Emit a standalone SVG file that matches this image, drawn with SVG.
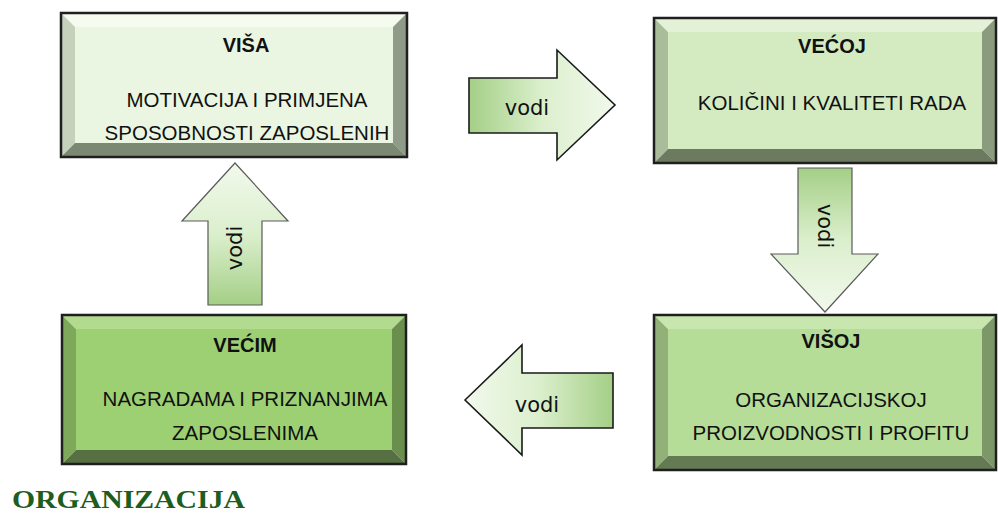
<svg xmlns="http://www.w3.org/2000/svg" width="998" height="513" viewBox="0 0 998 513">
<style>
.bord{fill:none;stroke:#1f1f1f;stroke-width:2.5}
.t{font-family:"Liberation Sans",Arial,sans-serif;font-size:20.5px;fill:#111;text-anchor:middle}
.h{font-weight:bold;font-size:20px}
.v{font-family:"DejaVu Sans",Verdana,sans-serif;font-size:21px;fill:#111;text-anchor:middle}
.arrH{stroke:#1a1a1a;stroke-width:1.6}
.arrV{stroke:#5a5a5a;stroke-width:1.2}
</style>
<defs>
<linearGradient id="gR" x1="0" y1="0" x2="1" y2="0"><stop offset="0" stop-color="#a4cf86"/><stop offset="0.5" stop-color="#dbefcd"/><stop offset="1" stop-color="#f2f9ec"/></linearGradient>
<linearGradient id="gL" x1="1" y1="0" x2="0" y2="0"><stop offset="0" stop-color="#a4cf86"/><stop offset="0.5" stop-color="#dbefcd"/><stop offset="1" stop-color="#f2f9ec"/></linearGradient>
<linearGradient id="gD" x1="0" y1="0" x2="0" y2="1"><stop offset="0" stop-color="#a4cf86"/><stop offset="0.5" stop-color="#dbefcd"/><stop offset="1" stop-color="#f2f9ec"/></linearGradient>
<linearGradient id="gU" x1="0" y1="1" x2="0" y2="0"><stop offset="0" stop-color="#a4cf86"/><stop offset="0.5" stop-color="#dbefcd"/><stop offset="1" stop-color="#f2f9ec"/></linearGradient>
</defs>

<g id="connectors">
  <g id="arrow-right">
    <polygon class="arrH" fill="url(#gR)" points="469,78 557,78 557,50 615,105 557,160 557,133 469,133"/>
    <text class="v" x="527" y="115">vodi</text>
  </g>
  <g id="arrow-down">
    <polygon class="arrV" fill="url(#gD)" points="798,168 852,168 852,254 878,254 825,312 771,254 798,254"/>
    <text class="v" transform="translate(818,226) rotate(90)">vodi</text>
  </g>
  <g id="arrow-left">
    <polygon class="arrH" fill="url(#gL)" points="465,400 522,345 522,373 613,373 613,428 522,428 522,455"/>
    <text class="v" x="537" y="412">vodi</text>
  </g>
  <g id="arrow-up">
    <polygon class="arrV" fill="url(#gU)" points="235,163 288,221 262,221 262,305 208,305 208,221 182,221"/>
    <text class="v" transform="translate(242,248) rotate(-90)">vodi</text>
  </g>
</g>

<g id="node-visa">
  <rect x="75" y="27" width="318" height="116" fill="#ebf6e2"/>
  <polygon fill="#f5fbef" points="61,13 407,13 393,27 75,27"/>
  <polygon fill="#c5d1bb" points="61,13 75,27 75,143 61,157"/>
  <polygon fill="#8f9b87" points="407,13 407,157 393,143 393,27"/>
  <polygon fill="#7b8872" points="61,157 75,143 393,143 407,157"/>
  <rect class="bord" x="61" y="13" width="346" height="144"/>
  <text class="t h" x="246" y="52">VIŠA</text>
  <text class="t" x="247" y="107">MOTIVACIJA I PRIMJENA</text>
  <text class="t" x="247" y="140">SPOSOBNOSTI ZAPOSLENIH</text>
</g>

<g id="node-vecoj">
  <rect x="668" y="32" width="314" height="117" fill="#d4ebc2"/>
  <polygon fill="#e3f2d7" points="654,18 996,18 982,32 668,32"/>
  <polygon fill="#a9bd9a" points="654,18 668,32 668,149 654,163"/>
  <polygon fill="#8a9b7e" points="996,18 996,163 982,149 982,32"/>
  <polygon fill="#6c7b60" points="654,163 668,149 982,149 996,163"/>
  <rect class="bord" x="654" y="18" width="342" height="145"/>
  <text class="t h" x="832" y="53">VEĆOJ</text>
  <text class="t" x="832" y="110">KOLIČINI I KVALITETI RADA</text>
</g>

<g id="node-vecim">
  <rect x="76" y="329" width="316" height="121" fill="#9dd072"/>
  <polygon fill="#b2db90" points="62,315 406,315 392,329 76,329"/>
  <polygon fill="#7ea95b" points="62,315 76,329 76,450 62,464"/>
  <polygon fill="#6a8f4c" points="406,315 406,464 392,450 392,329"/>
  <polygon fill="#566f43" points="62,464 76,450 392,450 406,464"/>
  <rect class="bord" x="62" y="315" width="344" height="149"/>
  <text class="t h" x="245" y="352">VEĆIM</text>
  <text class="t" x="245" y="406">NAGRADAMA I PRIZNANJIMA</text>
  <text class="t" x="245" y="440">ZAPOSLENIMA</text>
</g>

<g id="node-visoj">
  <rect x="668" y="329" width="314" height="127" fill="#b5dd97"/>
  <polygon fill="#c7e7af" points="654,315 996,315 982,329 668,329"/>
  <polygon fill="#91b179" points="654,315 668,329 668,456 654,470"/>
  <polygon fill="#7c9868" points="996,315 996,470 982,456 982,329"/>
  <polygon fill="#637a52" points="654,470 668,456 982,456 996,470"/>
  <rect class="bord" x="654" y="315" width="342" height="155"/>
  <text class="t h" x="831" y="348">VIŠOJ</text>
  <text class="t" x="831" y="407">ORGANIZACIJSKOJ</text>
  <text class="t" x="831" y="440">PROIZVODNOSTI I PROFITU</text>
</g>

<text x="12" y="508" font-family="'Liberation Serif','Times New Roman',serif" font-weight="bold" font-size="26" fill="#1d5e20" textLength="233" lengthAdjust="spacingAndGlyphs">ORGANIZACIJA</text>
</svg>
